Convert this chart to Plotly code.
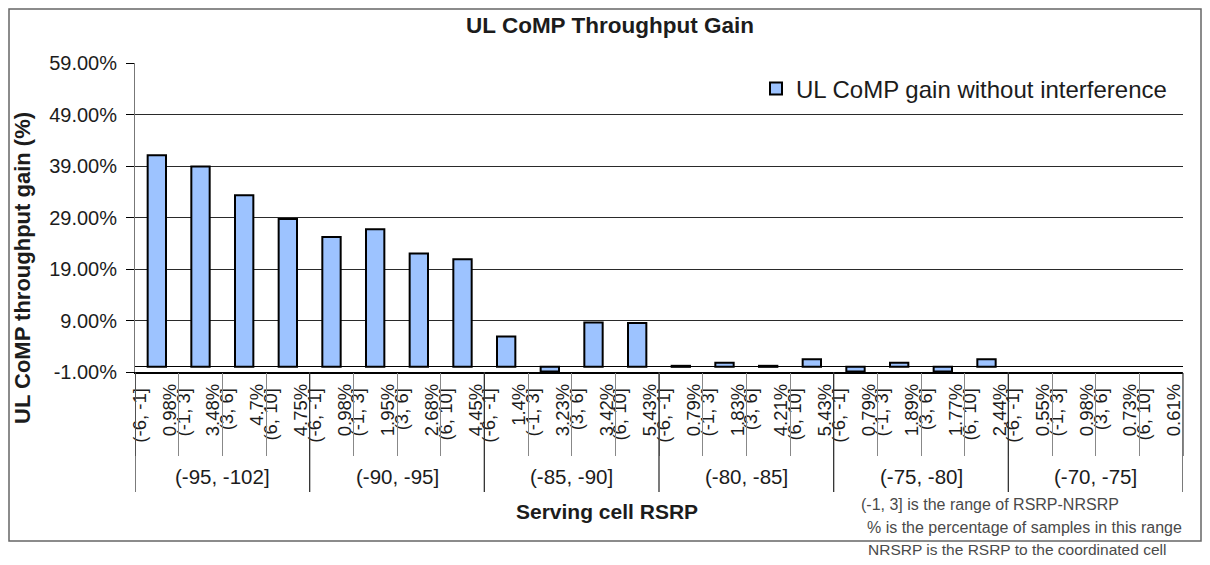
import plotly.graph_objects as go

# ---------------- data ----------------
groups = ["(-95, -102]", "(-90, -95]", "(-85, -90]", "(-80, -85]", "(-75, -80]", "(-70, -75]"]
sub_ranges = ["(-6, -1]", "(-1, 3]", "(3, 6]", "(6, 10]"]
sample_pct = [
    "0.98%", "3.48%", "4.7%", "4.75%",
    "0.98%", "1.95%", "2.68%", "4.45%",
    "1.4%", "3.23%", "3.42%", "5.43%",
    "0.79%", "1.83%", "4.21%", "5.43%",
    "0.79%", "1.89%", "1.77%", "2.44%",
    "0.55%", "0.98%", "0.73%", "0.61%",
]
gain = [
    41.1, 38.9, 33.3, 28.7,
    25.2, 26.7, 22.0, 20.9,
    5.9, -0.9, 8.6, 8.5,
    0.2, 0.8, 0.2, 1.5,
    -0.9, 0.8, -0.9, 1.5,
    None, None, None, None,
]
series_name = "UL CoMP gain without interference"
y_ticks = [-1, 9, 19, 29, 39, 49, 59]
y_tick_text = [f"{v:.2f}%" for v in y_ticks]

# ---------------- geometry helpers (layout only) ----------------
OFF = 8                      # page body margin
W, H = 1210 - 2 * OFF, 565 - 2 * OFF
# plot area in screen pixels: x 135..1183, y 63..372
SL, SR, ST, SB = 135, 1183, 63, 372
L, T = SL - OFF, ST - OFF
R, B = W - (SR - OFF), H - (SB - OFF)
PW, PH = SR - SL, SB - ST


def px(p):
    return (p - SL) / PW


def py(p):
    return (SB - p) / PH


n = len(gain)
idx = list(range(n))
sub_labels = [sub_ranges[i % len(sub_ranges)] for i in idx]
per_group = len(sub_ranges)
xr = [-0.5, n - 0.5]

FONT = "Liberation Sans, Arial, sans-serif"
TXT = "#1c1c1c"

fig = go.Figure()
fig.add_trace(go.Bar(
    x=idx, y=gain, name=series_name, width=0.42,
    marker=dict(color="#9DC3FF", line=dict(color="black", width=2)),
    showlegend=True,
))
# invisible helpers so overlay axes exist
fig.add_trace(go.Scatter(x=idx, y=gain, xaxis="x2", mode="markers",
                         marker=dict(opacity=0), showlegend=False, hoverinfo="skip"))
fig.add_trace(go.Scatter(x=idx, y=gain, xaxis="x3", mode="markers",
                         marker=dict(opacity=0), showlegend=False, hoverinfo="skip"))

shapes = []
for g in range(len(groups) + 1):
    xv = g * per_group - 0.5
    shapes.append(dict(type="line", xref="x", yref="paper", x0=xv, x1=xv,
                       y0=0, y1=py(492), line=dict(color="#333", width=1.3)))
shapes.append(dict(type="rect", xref="paper", yref="paper",
                   x0=px(9), x1=px(1201), y0=py(541), y1=py(9),
                   line=dict(color="#666", width=1.5)))

annotations = []
for g, name in enumerate(groups):
    annotations.append(dict(x=g * per_group + (per_group - 1) / 2, y=py(476),
                            xref="x", yref="paper", yanchor="middle", text=name,
                            showarrow=False, font=dict(family=FONT, size=20.5, color=TXT)))
annotations.append(dict(x=px(22), y=py(268), xref="paper", yref="paper",
                        xanchor="center", yanchor="middle",
                        text="<b>UL CoMP throughput gain (%)</b>", textangle=-90,
                        showarrow=False, font=dict(family=FONT, size=22, color=TXT)))
annotations.append(dict(x=px(607), y=py(511), xref="paper", yref="paper",
                        xanchor="center", yanchor="middle",
                        text="<b>Serving cell RSRP</b>", showarrow=False,
                        font=dict(family=FONT, size=21, color=TXT)))
notes = [("(-1, 3] is the range of RSRP-NRSRP", 859, 504, 16),
         ("% is the percentage of samples in this range", 865, 527, 16),
         ("NRSRP is the RSRP to the coordinated cell", 866, 549, 15.5)]
for t, xx, yy, fs in notes:
    annotations.append(dict(x=px(xx), y=py(yy), xref="paper", yref="paper",
                            xanchor="left", yanchor="middle", text=t, showarrow=False,
                            font=dict(family=FONT, size=fs, color="#4a4a4a")))

fig.update_layout(
    width=W, height=H,
    margin=dict(l=L, r=R, t=T, b=B, autoexpand=False),
    paper_bgcolor="white", plot_bgcolor="white",
    font=dict(family=FONT, color=TXT),
    title=dict(text="<b>UL CoMP Throughput Gain</b>", x=(610 - OFF) / W, xanchor="center",
               y=1 - (25 - OFF) / H, yanchor="middle",
               font=dict(family=FONT, size=22.5, color=TXT)),
    bargap=0.58,
    legend=dict(x=px(1172), y=py(89), xanchor="right", yanchor="middle",
                bgcolor="white", borderwidth=0, font=dict(family=FONT, size=24, color=TXT)),
    xaxis=dict(range=xr, tickmode="array", tickvals=idx, ticktext=sub_labels,
               tickangle=-90, ticks="", showgrid=False, zeroline=False,
               showline=True, linecolor="black", linewidth=1.5,
               ticklabelshift=-17, ticklabelstandoff=7,
               tickfont=dict(family=FONT, size=18.5, color=TXT), automargin=False),
    xaxis2=dict(range=xr, overlaying="x", anchor="y", side="bottom",
                tickmode="array", tickvals=idx, ticktext=sample_pct,
                tickangle=-90, ticks="", showgrid=False, zeroline=False, showline=False,
                ticklabelshift=13, ticklabelstandoff=7,
                tickfont=dict(family=FONT, size=18.5, color=TXT), automargin=False),
    xaxis3=dict(range=xr, overlaying="x", anchor="y", side="bottom",
                tickmode="array", tickvals=[i - 0.5 for i in range(n + 1)],
                showticklabels=False, ticks="outside", ticklen=83, tickcolor="#888",
                tickwidth=1, showgrid=False, zeroline=False, showline=False,
                automargin=False),
    yaxis=dict(range=[-1, 59], tickmode="array", tickvals=y_ticks, ticktext=y_tick_text,
               showgrid=True, gridcolor="#2a2a2a",
               gridwidth=1, zeroline=True, zerolinecolor="black", zerolinewidth=1.2,
               showline=True, linecolor="#777", linewidth=1,
               ticks="outside", ticklen=8, tickcolor="black",
               ticklabelstandoff=5,
               tickfont=dict(family=FONT, size=20, color=TXT), automargin=False),
    shapes=shapes,
    annotations=annotations,
)

fig.write_html("out.html")
